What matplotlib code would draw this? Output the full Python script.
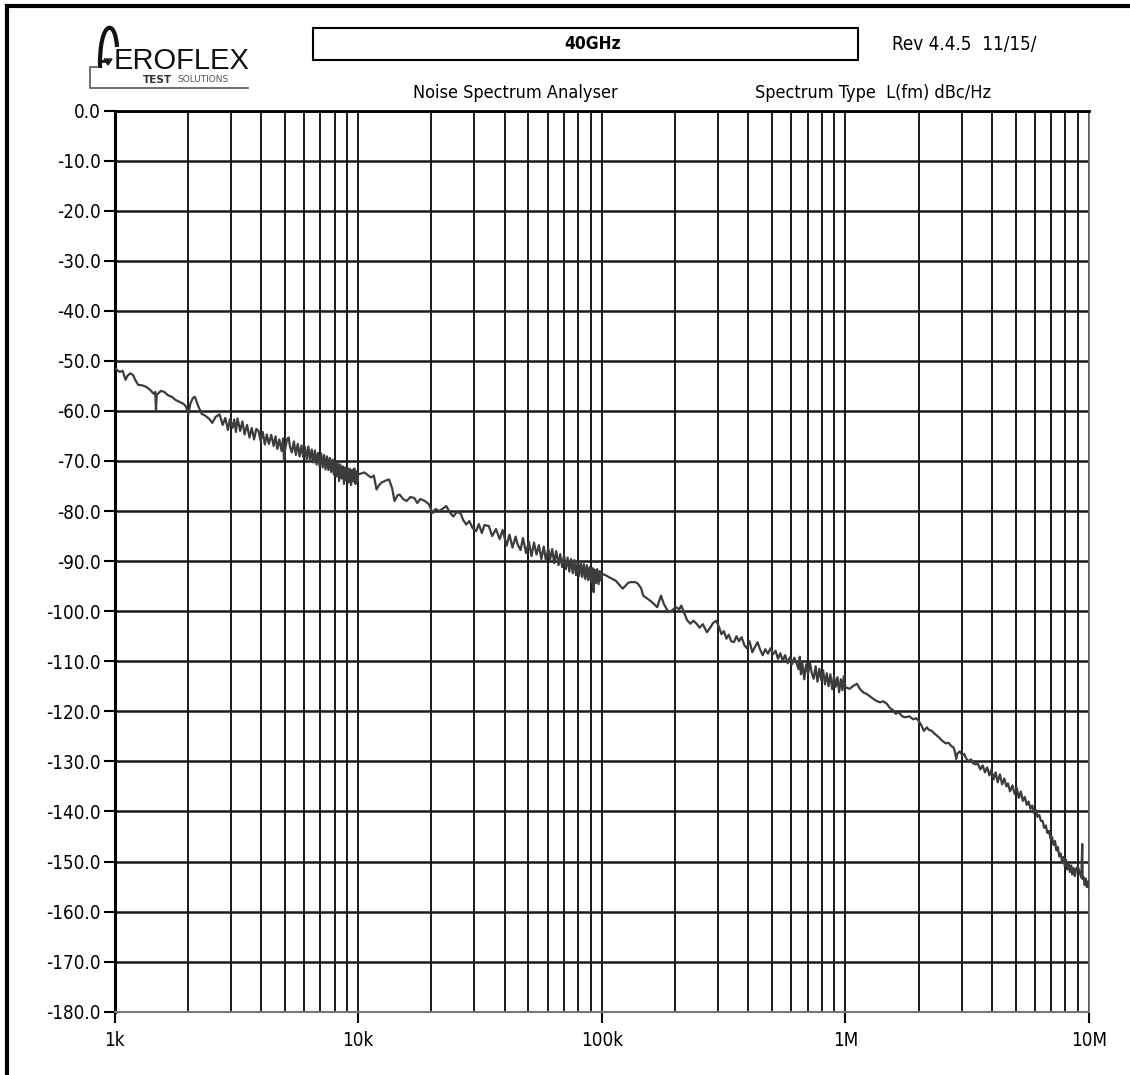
import numpy as np
import matplotlib
matplotlib.use("Agg")
import matplotlib.pyplot as plt
from matplotlib import font_manager
from matplotlib.font_manager import FontProperties
from matplotlib.path import Path
from matplotlib.patches import PathPatch, Rectangle, Polygon

# ---- chart data ----
freq_khz = [
    1.00, 1.05, 1.08, 1.11, 1.13, 1.16, 1.19, 1.22, 1.25, 1.30, 1.35, 1.40, 1.45, 1.47, 1.48, 1.49,
    1.55, 1.60, 1.66, 1.72, 1.78, 1.85, 1.92, 1.97, 2.01, 2.05, 2.10, 2.14, 2.20, 2.28, 2.35, 2.45,
    2.52, 2.60, 2.70, 2.78, 2.85, 2.92, 2.98, 3.05, 3.10, 3.15, 3.20, 3.28, 3.35, 3.42, 3.50, 3.58,
    3.66, 3.74, 3.82, 3.90, 3.98, 4.06, 4.14, 4.22, 4.30, 4.40, 4.50, 4.58, 4.66, 4.75, 4.85, 4.92,
    4.96, 5.00, 5.10, 5.18, 5.26, 5.35, 5.45, 5.55, 5.65, 5.75, 5.85, 5.95, 6.05, 6.15, 6.25, 6.35,
    6.45, 6.55, 6.65, 6.75, 6.85, 6.95, 7.05, 7.15, 7.25, 7.35, 7.45, 7.55, 7.65, 7.75, 7.85, 7.95,
    8.05, 8.15, 8.25, 8.35, 8.45, 8.55, 8.65, 8.75, 8.85, 8.95, 9.05, 9.15, 9.25, 9.35, 9.45, 9.55,
    9.65, 9.75, 9.85, 9.95,
    10.0, 10.6, 11.3, 11.6, 11.9, 12.2, 12.5, 13.0, 13.4, 13.8, 14.1, 14.5, 14.8, 15.3, 15.8, 16.4,
    17.0, 17.5, 18.0, 18.8, 19.5, 20.2, 20.8, 21.5, 22.3, 23.0, 23.8, 24.6, 25.4, 26.3, 27.0, 27.8,
    28.6, 29.5, 30.5, 31.3, 32.2, 33.0, 34.4, 35.5, 36.8, 38.1, 39.2, 40.7, 41.8, 43.0, 44.3, 45.1,
    46.4, 47.5, 48.9, 50.2, 51.5, 52.7, 54.0, 55.2, 56.5, 57.8, 59.0, 60.3, 61.4, 62.6, 63.8, 65.0,
    66.5, 67.5, 68.8, 70.0, 71.2, 72.4, 73.6, 74.8, 76.0, 77.2, 78.4, 79.6, 80.8, 82.0, 83.2, 84.4,
    85.6, 86.8, 88.0, 89.2, 90.4, 91.6, 92.6, 93.4, 94.6, 95.8, 97.0, 98.2, 99.4,
    100, 104.5, 107, 114, 122, 128, 131, 137, 140, 145, 148, 152, 158, 164, 169, 172,
    175, 180, 188, 195, 201, 208, 212, 218, 224, 231, 238, 245, 252, 260, 270, 278,
    286, 295, 302, 310, 317, 325, 332, 340, 349, 357, 366, 375, 385, 394, 404, 415,
    425, 436, 447, 458, 469, 481, 493, 505, 517, 529, 541, 553, 566, 580, 592, 604,
    617, 630, 643, 650, 657, 665, 678, 690, 703, 716, 728, 741, 755, 768, 782, 796,
    810, 825, 839, 853, 868, 883, 898, 913, 928, 943, 958, 973, 985,
    1000, 1040, 1080, 1115, 1150, 1190, 1220, 1260, 1310, 1350, 1390, 1430, 1480, 1520, 1570, 1610,
    1660, 1710, 1760, 1830, 1900, 1950, 2000, 2050, 2100, 2160, 2200, 2260, 2340, 2420, 2500, 2580,
    2650, 2730, 2780, 2820, 2850, 2880, 2950, 3020, 3070, 3140, 3210, 3280, 3350, 3420, 3500, 3580,
    3660, 3740, 3820, 3900, 3980, 4060, 4140, 4220, 4310, 4400, 4490, 4580, 4650, 4740, 4850, 4950,
    5050, 5150, 5250, 5350, 5450, 5550, 5650, 5750, 5850, 5950, 6050, 6150, 6250, 6350, 6450, 6550,
    6650, 6750, 6850, 6950, 7050, 7150, 7250, 7350, 7450, 7550, 7650, 7750, 7850, 7950, 8050, 8150,
    8250, 8350, 8450, 8550, 8650, 8750, 8850, 9000, 9300, 9380, 9420, 9500, 9600, 9700, 9800, 9900,
    10000,
]
level_dbc = [
    -51.5, -52.2, -52.0, -53.8, -53.0, -52.5, -52.8, -53.9, -54.8, -54.9, -55.2, -55.8, -56.6, -56.2, -59.9, -56.8,
    -56.0, -56.2, -56.9, -57.2, -57.8, -58.2, -58.6, -59.2, -60.6, -58.5, -57.4, -57.2, -58.9, -60.6, -60.9, -61.6,
    -62.4, -61.2, -60.7, -62.8, -61.4, -63.8, -61.6, -63.4, -61.7, -64.2, -61.5, -64.0, -62.1, -64.7, -62.8, -65.3,
    -63.4, -65.7, -63.6, -64.0, -66.0, -64.2, -66.7, -64.7, -66.6, -64.8, -67.0, -65.1, -67.6, -65.7, -68.0, -65.5,
    -69.6, -68.1, -65.8, -65.3, -67.3, -68.3, -66.1, -68.8, -66.6, -69.1, -66.9, -69.2, -67.2, -69.7, -67.1, -70.0,
    -67.7, -70.3, -67.9, -70.7, -68.4, -71.1, -68.5, -71.3, -68.8, -71.7, -69.1, -71.8, -69.4, -72.2, -69.7, -72.7,
    -70.1, -73.1, -70.4, -74.0, -70.7, -73.5, -71.1, -74.6, -71.3, -73.9, -71.4, -74.3, -71.6, -74.8, -71.8, -74.1,
    -71.5, -74.6, -72.1, -74.0,
    -72.7, -72.3, -73.3, -72.9, -75.7, -74.8, -74.3, -73.9, -73.7, -75.5, -78.0, -76.9, -76.7, -77.6, -78.0, -77.2,
    -77.4, -78.4, -77.6, -78.0, -78.6, -80.4, -79.6, -80.0, -79.5, -79.0, -80.3, -81.1, -80.2, -80.4, -81.8, -82.7,
    -82.0, -83.4, -84.0, -82.6, -84.4, -82.8, -83.0, -85.0, -83.6, -85.6, -83.8, -86.9, -84.7, -87.3, -85.1, -86.6,
    -87.8, -85.4, -88.4, -86.1, -89.0, -86.3, -88.7, -86.8, -89.6, -87.1, -89.9, -87.4, -89.7, -87.6, -90.4, -88.0,
    -90.8, -88.6, -91.2, -88.8, -91.6, -89.3, -92.1, -89.6, -92.4, -89.8, -92.8, -90.0, -93.0, -90.2, -93.2, -90.6,
    -93.6, -90.8, -93.8, -91.2, -94.2, -91.4, -96.2, -91.7, -94.4, -91.6, -94.6, -92.0, -93.9,
    -92.5, -92.9, -93.2, -93.9, -95.5, -94.4, -94.2, -94.2, -94.4, -95.4, -96.9, -97.3, -97.9, -98.6, -99.2, -98.0,
    -96.9, -98.6, -100.2, -99.8, -99.2, -99.6, -98.9, -100.4, -101.8, -102.5, -101.9, -102.5, -103.3, -102.6, -104.2, -103.4,
    -102.4, -101.9, -103.0, -104.6, -104.0, -105.5, -104.7, -106.0, -106.2, -105.0, -106.0, -105.2, -106.8, -107.4, -106.0, -108.2,
    -107.2, -106.2, -107.7, -108.8, -107.6, -108.5, -107.4, -108.6, -107.9, -109.5, -108.4, -109.9, -108.8, -110.4, -109.2, -110.6,
    -109.3, -110.4, -111.6, -109.1, -112.6, -110.2, -113.6, -110.6, -112.5, -110.3, -112.4, -113.5, -111.0, -114.1, -111.5, -113.8,
    -111.8, -114.6, -112.4, -115.0, -112.6, -115.6, -113.0, -115.1, -113.2, -116.2, -113.6, -115.8, -113.0,
    -115.2, -115.5, -114.9, -114.5, -115.6, -116.3, -116.5, -117.0, -117.6, -118.0, -118.2, -118.0, -118.5, -119.3, -119.8, -120.5,
    -120.2, -121.0, -121.2, -121.0, -121.6, -121.4, -121.9, -122.8, -123.9, -123.2, -123.7, -123.9, -124.6, -125.2, -125.9, -126.4,
    -126.3, -127.0, -127.2, -128.2, -129.5, -128.5, -128.0, -128.8, -128.5, -129.5, -130.0, -129.6, -130.4, -130.6, -130.5, -131.6,
    -130.8, -132.2, -131.2, -132.8, -131.6, -133.6, -132.2, -134.2, -132.6, -134.6, -133.4, -135.0, -134.4, -136.0, -134.8, -136.5,
    -135.3, -137.3, -136.0, -137.9, -137.1, -138.7, -138.0, -139.5, -138.8, -140.3, -139.7, -141.1, -140.7, -141.9, -141.9, -143.3,
    -142.8, -144.3, -143.9, -145.4, -145.1, -146.7, -145.9, -147.8, -147.1, -149.0, -148.4, -150.1, -149.1, -150.9, -149.7, -151.6,
    -150.5, -152.1, -150.8, -152.6, -151.3, -152.9, -151.5, -151.0, -153.2, -146.5, -153.5, -153.1, -154.7, -153.4, -155.1, -154.0,
    -155.3,
]

y_ticks = list(range(0, -190, -10))
x_ticks_hz = [1e3, 1e4, 1e5, 1e6, 1e7]
x_tick_labels = ["1k", "10k", "100k", "1M", "10M"]


# pick a condensed sans face if one is installed (screen font is a narrow Arial)
def find_face(bold=False):
    wanted = ["LiberationSansNarrow", "DejaVuSansCondensed"]
    for key in wanted:
        for f in font_manager.fontManager.ttflist:
            fn = f.fname.replace("-", "").replace("_", "")
            if key in fn and ("Bold" in fn) == bold and "Italic" not in fn and "Oblique" not in fn:
                return FontProperties(fname=f.fname), key
    return FontProperties(family="Liberation Sans", weight="bold" if bold else "normal"), "plain"


fp, kind = find_face()
fpb, _ = find_face(bold=True)
fs = {"LiberationSansNarrow": 15, "DejaVuSansCondensed": 13.5}.get(kind, 12.5)

W, H = 1130, 1075
fig = plt.figure(figsize=(W / 100, H / 100), dpi=100)
fig.patch.set_facecolor("white")

# overlay in pixel coords for frame / header
bg = fig.add_axes([0, 0, 1, 1], zorder=0)
bg.set_xlim(0, W)
bg.set_ylim(H, 0)
bg.axis("off")

# outer frame (left + top)
bg.plot([7, 7, W], [H, 6, 6], color="black", lw=3, solid_joinstyle="miter")

# logo
arch = Path([(100, 68), (99, 22), (115, 16), (117, 47)],
            [Path.MOVETO, Path.CURVE4, Path.CURVE4, Path.CURVE4])
bg.add_patch(PathPatch(arch, fill=False, lw=3, edgecolor="#111"))
bg.plot([101, 106], [61, 61], color="#111", lw=2)
bg.add_patch(Polygon([(104, 59), (112, 59), (108, 65)], closed=True, color="#222"))
bg.text(114, 61, "EROFLEX", fontsize=21, color="#111", va="center", ha="left",
        family=["Liberation Sans", "DejaVu Sans"])
bg.text(143, 80, "TEST", fontsize=7.5, fontweight="bold", color="#333", va="center", ha="left",
        family=["DejaVu Sans"])
bg.text(177, 80, "SOLUTIONS", fontsize=6.5, color="#555", va="center", ha="left",
        family=["DejaVu Sans"])
bg.plot([98, 90, 90, 248], [67, 67, 88, 88], color="#555", lw=1.2)

# title box
bg.add_patch(Rectangle((313, 28), 545, 32, fill=False, lw=1.5, edgecolor="black"))
bg.text(593, 44, "40GHz", fontproperties=fpb, fontsize=fs - 1, ha="center", va="center")
bg.text(892, 44, "Rev 4.4.5  11/15/", fontproperties=fp, fontsize=fs, ha="left", va="center")
bg.text(413, 93, "Noise Spectrum Analyser", fontproperties=fp, fontsize=fs - 0.5, ha="left", va="center")
bg.text(755, 93, "Spectrum Type  L(fm) dBc/Hz", fontproperties=fp, fontsize=fs - 0.5, ha="left", va="center")

# main plot
ax = fig.add_axes([114.5 / W, 63.3 / H, (1089 - 114.5) / W, (1011.7 - 110.5) / H], zorder=1)
ax.set_facecolor("white")
ax.semilogx(np.array(freq_khz) * 1e3, level_dbc, color="#3c3c3c", lw=1.6, zorder=3)

ax.set_xlim(1e3, 1e7)
ax.set_ylim(-180, 0)
ax.set_yticks(y_ticks)
ax.set_yticklabels([f"{v:.1f}" for v in y_ticks], fontproperties=fp, fontsize=fs)
ax.set_xticks(x_ticks_hz)
ax.set_xticklabels(x_tick_labels, fontproperties=fp, fontsize=fs)
ax.set_xticks([m * d for d in x_ticks_hz[:-1] for m in range(2, 10)], minor=True)

ax.grid(True, axis="x", which="both", color="#1a1a1a", lw=1.4)
ax.grid(True, axis="y", which="major", color="#1a1a1a", lw=1.8)

ax.tick_params(axis="y", direction="out", length=8, width=1.5, pad=2)
ax.tick_params(axis="x", which="major", direction="out", length=8, width=1.5, pad=6)
ax.tick_params(axis="x", which="minor", length=0)

for side, lw, c in [("left", 2.2, "black"), ("top", 2.0, "black"),
                    ("right", 1.2, "#666"), ("bottom", 1.5, "#777")]:
    ax.spines[side].set_linewidth(lw)
    ax.spines[side].set_color(c)

fig.savefig("out.png", dpi=100, facecolor="white")
